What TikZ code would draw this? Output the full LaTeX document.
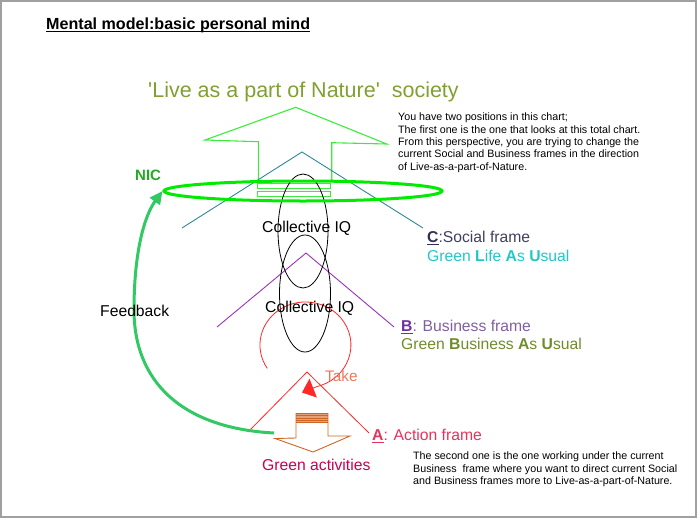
\documentclass[tikz,border=0pt]{standalone}
\usepackage{fontspec}
\setmainfont{Liberation Sans}
\usetikzlibrary{arrows.meta,shapes.geometric}
\definecolor{framegray}{RGB}{160,160,160}
\definecolor{olivetitle}{RGB}{128,160,50}
\definecolor{arrowgreen}{RGB}{60,235,60}
\definecolor{ringgreen}{RGB}{0,235,0}
\definecolor{nicgreen}{RGB}{34,170,34}
\definecolor{fbgreen}{RGB}{50,200,100}
\definecolor{tealline}{RGB}{49,133,156}
\definecolor{purpline}{RGB}{153,51,187}
\definecolor{redline}{RGB}{255,40,40}
\definecolor{cdark}{RGB}{50,50,80}
\definecolor{ctext}{RGB}{64,64,96}
\definecolor{cyantext}{RGB}{30,200,200}
\definecolor{bdark}{RGB}{112,48,160}
\definecolor{btext}{RGB}{128,96,160}
\definecolor{olivetext}{RGB}{112,140,40}
\definecolor{atext}{RGB}{230,50,90}
\definecolor{taketext}{RGB}{240,120,90}
\definecolor{activtext}{RGB}{200,0,80}
\definecolor{orangeline}{RGB}{204,102,34}
\definecolor{salmonfill}{RGB}{228,160,120}
\newcommand{\myul}[1]{\setbox0\hbox{#1}\rlap{\rule[-2pt]{\wd0}{1pt}}\box0}
\tikzset{
  lbl/.style={anchor=base west, inner sep=0, font=\fontsize{15.7}{18}\selectfont},
  note/.style={anchor=north west, inner sep=0, align=left, font=\fontsize{10.7}{12.3}\selectfont},
  chev/.style={line width=0.9pt, line join=miter}
}
\begin{document}
\begin{tikzpicture}[x=1pt,y=-1pt]
\useasboundingbox (0,0) rectangle (700,519);
\draw[framegray, line width=2pt] (1,1) rectangle (696,517);

% title
\node[anchor=base west, inner sep=0, font=\bfseries\fontsize{16.1}{18}\selectfont] (title) at (46,29.3) {Mental model:basic personal mind};
\draw[line width=1.1pt] ([yshift=-2.4pt]title.base west) -- ([yshift=-2.4pt]title.base east);

\node[anchor=base west, inner sep=0, font=\fontsize{21.5}{24}\selectfont, text=olivetitle] (society) at (148,97) {\textquotesingle Live as a part of Nature\textquotesingle\ \ society};

% big green up arrow
\draw[arrowgreen, line width=1.1pt, line join=miter] (258.3,180) -- (258.3,141.7) -- (205,140) -- (295.7,107.3) -- (386.7,144) -- (331.7,142.7) -- (331.7,180);
\draw[arrowgreen, line width=0.9pt] (257.7,183.3) rectangle (330.7,188.3);
\draw[arrowgreen, line width=0.9pt] (257.7,191.7) rectangle (330.7,196.7);

% chevrons
\draw[chev, tealline] (182,228) -- (302,152) -- (423,228);
\draw[chev, purpline] (217,327) -- (306,253) -- (394,327);
\draw[chev, redline, line width=0.8pt] (248,432) -- (307,372) -- (369,433);

% collective IQ ellipses
\draw[black, line width=0.8pt] (303,231) ellipse [x radius=25, y radius=57];
\draw[black, line width=0.8pt] (305,293.5) ellipse [x radius=25.5, y radius=58.5];

% NIC ring
\node[ellipse, draw=ringgreen, line width=3pt, minimum width=278pt, minimum height=20pt, inner sep=0] (nicring) at (303,191) {};

% take arc
\draw[redline, line width=0.8pt, -{Triangle[length=12pt,width=20pt]}] (267.3,368.4) arc[start angle=147, end angle=435, x radius=45.5, y radius=43] -- (302,392.5);

% orange down arrow
\fill[salmonfill] (296,413) rectangle (328,422);
\foreach \yy in {413,415.5,418,420.5,422} \draw[orangeline, line width=0.7pt] (296,\yy) -- (328,\yy);
\draw[orangeline, line width=0.9pt, line join=miter] (296,413) -- (296,438) -- (275,438.5) -- (313,452) -- (350,436) -- (328,436) -- (328,413);

% feedback arrow
\coordinate (fbstart) at (274,433);
\draw[fbgreen, line width=3pt, -{Triangle[length=13pt,width=12pt]}] (fbstart) .. controls (180,428) and (134,380) .. (134,310) .. controls (134,250) and (145,215) .. (nicring.west);

% labels
\node[anchor=base west, inner sep=0, font=\bfseries\fontsize{15}{18}\selectfont, text=nicgreen] (nic) at (135,180) {NIC};
\node[lbl] (fb) at (100,316) {Feedback};
\node[lbl] (ciq1) at (262,232) {Collective IQ};
\node[lbl] (ciq2) at (265,312) {Collective IQ};
\node[lbl, font=\fontsize{15.3}{18}\selectfont, text=taketext] (take) at (325,381.5) {Take};
\node[lbl, text=activtext] (green) at (262,470.7) {Green activities};

\node[lbl, text=ctext] (clab) at (427,242.7) {\textcolor{cdark}{\myul{\textbf{C}}}:Social frame};
\node[lbl, text=cyantext] (clab2) at (427,261.7) {Green \textbf{L}ife \textbf{A}s \textbf{U}sual};
\node[lbl, text=btext] (blab) at (401,331.7) {\textcolor{bdark}{\myul{\textbf{B}}}: Business frame};
\node[lbl, text=olivetext] (blab2) at (401,349.3) {Green \textbf{B}usiness \textbf{A}s \textbf{U}sual};
\node[lbl, text=atext] (alab) at (372,440.7) {\myul{\textbf{A}}: Action frame};

\node[note] (note1) at (398,113) {You have two positions in this chart;\\The first one is the one that looks at this total chart.\\From this perspective, you are trying to change the\\current Social and Business frames in the direction\\of Live-as-a-part-of-Nature.};
\node[note] (note2) at (413,452) {The second one is the one working under the current\\Business\ \ frame where you want to direct current Social\\and Business frames more to Live-as-a-part-of-Nature.};
\end{tikzpicture}
\end{document}
